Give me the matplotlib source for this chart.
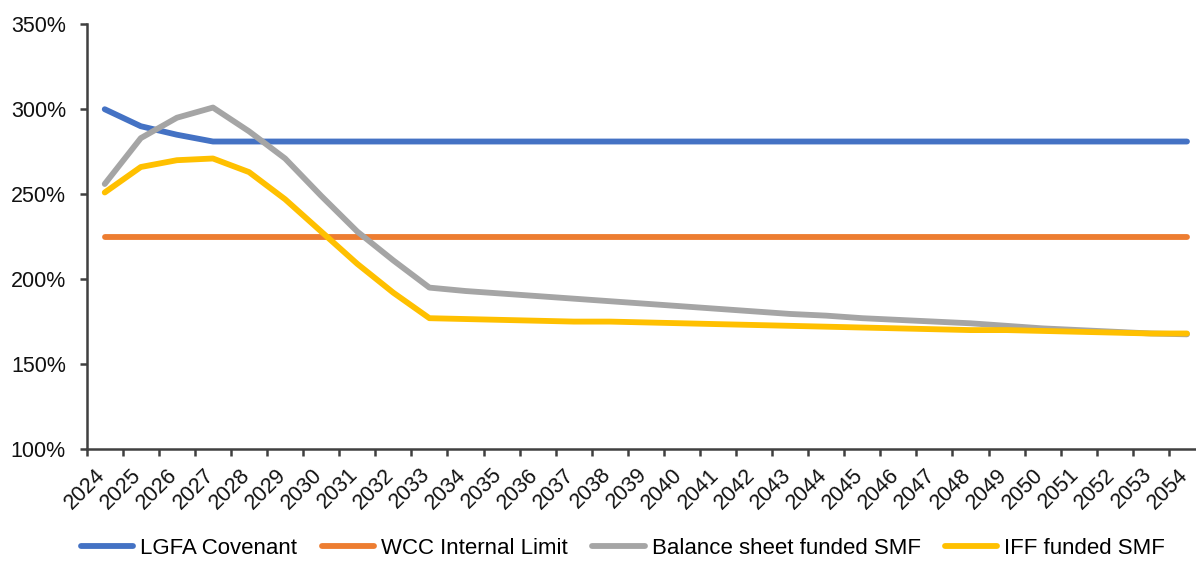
import matplotlib
matplotlib.use("Agg")
import matplotlib.pyplot as plt
import matplotlib.transforms as mtransforms
from matplotlib.ticker import FixedLocator, FuncFormatter

plt.rcParams["font.family"] = ["Liberation Sans", "DejaVu Sans"]
plt.rcParams["font.size"] = 15.5

years = list(range(2024, 2055))

# ratios in percent, one value per year
lgfa_covenant = [300, 290, 285, 281] + [281] * 27
wcc_internal_limit = [225] * 31
balance_sheet_smf = [256, 283, 295, 301, 287, 271, 249, 228, 211, 195,
                     193, 191.5, 190, 188.5, 187, 185.5, 184, 182.5, 181, 179.5,
                     178.5, 177, 176, 175, 174, 172.5, 171, 170, 169, 168, 167.5]
iff_smf = [251, 266, 270, 271, 263, 247, 228, 209, 192, 177,
           176.5, 176, 175.5, 175, 175, 174.5, 174, 173.5, 173, 172.5,
           172, 171.5, 171, 170.5, 170, 170, 169.5, 169, 168.5, 168, 168]

series = [
    ("LGFA Covenant", lgfa_covenant, "#4472C4"),
    ("WCC Internal Limit", wcc_internal_limit, "#ED7D31"),
    ("Balance sheet funded SMF", balance_sheet_smf, "#A5A5A5"),
    ("IFF funded SMF", iff_smf, "#FFC000"),
]

W, H = 1196, 561
fig = plt.figure(figsize=(W / 100, H / 100), dpi=100)
ax = fig.add_axes([86.7 / W, 1 - 449 / H, 1 - 86.7 / W, (449 - 24.3) / H])

x = list(range(len(years)))
for label, vals, color in series:
    ax.plot(x, vals, color=color, lw=4.2, label=label, solid_capstyle="round")

ax.set_xlim(-0.5, 30.25)
ax.set_ylim(100, 350)

ax.spines["top"].set_visible(False)
ax.spines["right"].set_visible(False)
for side in ("left", "bottom"):
    ax.spines[side].set_color("#404040")
    ax.spines[side].set_linewidth(1.8)

ax.set_yticks([100, 150, 200, 250, 300, 350])
ax.yaxis.set_major_formatter(FuncFormatter(lambda v, _: f"{v:.0f}%"))
ax.tick_params(axis="y", length=5, width=1.8, color="#404040", pad=10,
               labelcolor="#111111")

# year labels sit mid-category, tick marks on the category boundaries
ax.set_xticks(x)
ax.set_xticklabels([str(y) for y in years], rotation=45, ha="right")
ax.xaxis.set_minor_locator(FixedLocator([i - 0.5 for i in range(len(years) + 1)]))
ax.tick_params(axis="x", which="major", length=0, pad=11, labelcolor="#111111")
ax.tick_params(axis="x", which="minor", length=5, width=1.8, color="#404040")
shift = mtransforms.ScaledTranslation(5 / 100, 0, fig.dpi_scale_trans)
for lbl in ax.get_xticklabels():
    lbl.set_transform(lbl.get_transform() + shift)

leg = fig.legend(loc="center left", bbox_to_anchor=(81 / W, 1 - 548 / H),
                 ncol=4, frameon=False, borderpad=0, borderaxespad=0,
                 handlelength=2.35, handletextpad=0.32, columnspacing=1.1,
                 fontsize=16)
for h in leg.get_lines():
    h.set_solid_capstyle("round")
    h.set_linewidth(4.2)

fig.savefig("out.png", dpi=100)
